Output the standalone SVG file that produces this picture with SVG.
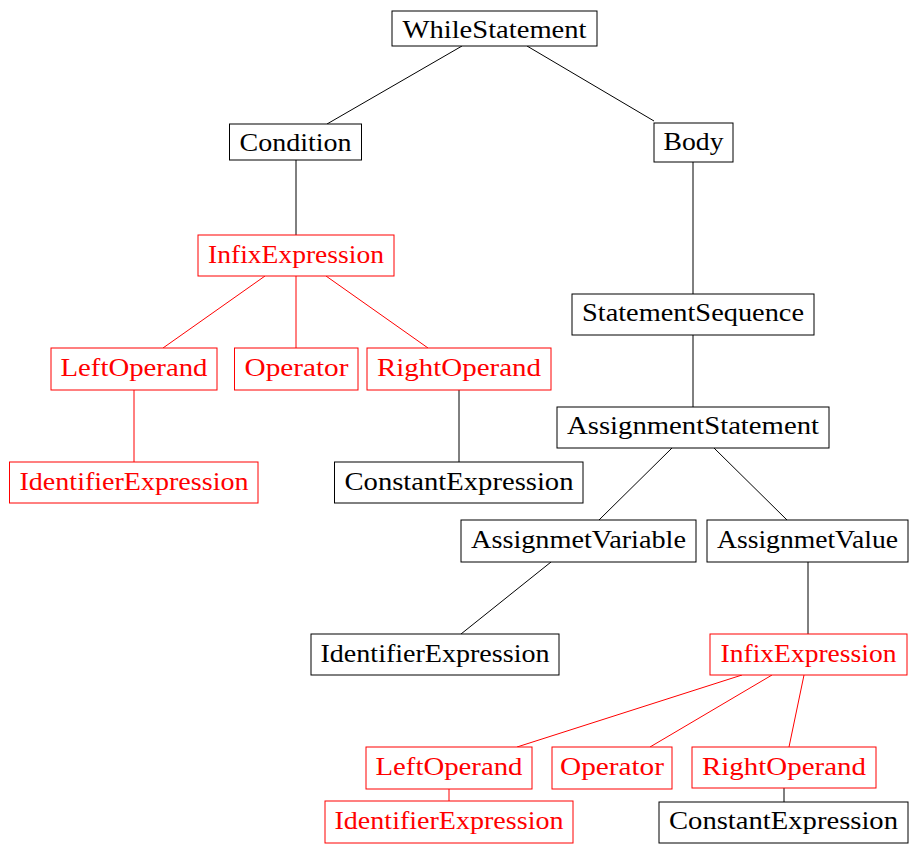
<svg xmlns="http://www.w3.org/2000/svg" width="910" height="844" viewBox="0 0 910 844">
  <style>
    .box { fill: #ffffff; stroke: #000000; stroke-width: 1; }
    .box.hl { stroke: #ff0000; }
    .lbl { font-size: 25px; fill: #000000; text-anchor: middle; }
    .lbl.hl { fill: #ff0000; }
    .edge { stroke: #000000; stroke-width: 1; fill: none; }
    .edge.hl { stroke: #ff0000; }
  </style>
  <rect width="910" height="844" fill="#ffffff"/>

  <!-- tree edges -->
  <g id="connectors">
    <line class="edge" x1="462" y1="46" x2="327" y2="124"/>
    <line class="edge" x1="527" y1="46" x2="654" y2="121"/>
    <line class="edge" x1="296" y1="160" x2="296" y2="235"/>
    <line class="edge hl" x1="265" y1="276" x2="163" y2="348"/>
    <line class="edge hl" x1="296" y1="276" x2="296" y2="348"/>
    <line class="edge hl" x1="326" y1="276" x2="428" y2="348"/>
    <line class="edge hl" x1="134" y1="390" x2="134" y2="462"/>
    <line class="edge" x1="459" y1="390" x2="459" y2="462"/>
    <line class="edge" x1="693" y1="162" x2="693" y2="294"/>
    <line class="edge" x1="693" y1="335" x2="693" y2="407"/>
    <line class="edge" x1="672" y1="448" x2="599" y2="520"/>
    <line class="edge" x1="714" y1="448" x2="787" y2="520"/>
    <line class="edge" x1="551" y1="562" x2="461" y2="634"/>
    <line class="edge" x1="808" y1="562" x2="808" y2="634"/>
    <line class="edge hl" x1="742" y1="675" x2="517" y2="747"/>
    <line class="edge hl" x1="772" y1="675" x2="650" y2="747"/>
    <line class="edge hl" x1="804" y1="675" x2="789" y2="747"/>
    <line class="edge hl" x1="449" y1="789" x2="449" y2="801"/>
    <line class="edge" x1="784" y1="788" x2="784" y2="802"/>
  </g>

  <!-- nodes; labels inherit the serif face from this group -->
  <g id="nodes" font-family="Liberation Serif, serif">
  <g id="n-while">
    <rect class="box" x="392" y="11" width="205" height="35"/>
    <text class="lbl" x="494.5" y="38" textLength="184" lengthAdjust="spacingAndGlyphs">WhileStatement</text>
  </g>
  <g id="n-condition">
    <rect class="box" x="229.5" y="124" width="132" height="36"/>
    <text class="lbl" x="295.5" y="151" textLength="112" lengthAdjust="spacingAndGlyphs">Condition</text>
  </g>
  <g id="n-body">
    <rect class="box" x="654" y="123" width="79" height="39"/>
    <text class="lbl" x="693.5" y="150" textLength="60" lengthAdjust="spacingAndGlyphs">Body</text>
  </g>
  <g id="n-cond-infix">
    <rect class="box hl" x="198" y="235" width="196" height="41"/>
    <text class="lbl hl" x="296" y="263" textLength="176" lengthAdjust="spacingAndGlyphs">InfixExpression</text>
  </g>
  <g id="n-cond-left">
    <rect class="box hl" x="51" y="348" width="166" height="42"/>
    <text class="lbl hl" x="134" y="376" textLength="147" lengthAdjust="spacingAndGlyphs">LeftOperand</text>
  </g>
  <g id="n-cond-op">
    <rect class="box hl" x="234.5" y="348" width="123.5" height="42"/>
    <text class="lbl hl" x="296.5" y="376" textLength="104" lengthAdjust="spacingAndGlyphs">Operator</text>
  </g>
  <g id="n-cond-right">
    <rect class="box hl" x="367" y="348" width="184" height="42"/>
    <text class="lbl hl" x="459" y="376" textLength="164" lengthAdjust="spacingAndGlyphs">RightOperand</text>
  </g>
  <g id="n-cond-ident">
    <rect class="box hl" x="9.5" y="462" width="248.5" height="41"/>
    <text class="lbl hl" x="134" y="490" textLength="229" lengthAdjust="spacingAndGlyphs">IdentifierExpression</text>
  </g>
  <g id="n-cond-const">
    <rect class="box" x="334.5" y="462" width="248.5" height="41"/>
    <text class="lbl" x="459" y="490" textLength="229" lengthAdjust="spacingAndGlyphs">ConstantExpression</text>
  </g>
  <g id="n-seq">
    <rect class="box" x="572" y="294" width="242" height="41"/>
    <text class="lbl" x="693" y="321" textLength="222" lengthAdjust="spacingAndGlyphs">StatementSequence</text>
  </g>
  <g id="n-assign">
    <rect class="box" x="557" y="407" width="272" height="41"/>
    <text class="lbl" x="693" y="434" textLength="252" lengthAdjust="spacingAndGlyphs">AssignmentStatement</text>
  </g>
  <g id="n-var">
    <rect class="box" x="461" y="520" width="235" height="42"/>
    <text class="lbl" x="578.5" y="548" textLength="215" lengthAdjust="spacingAndGlyphs">AssignmetVariable</text>
  </g>
  <g id="n-value">
    <rect class="box" x="707" y="520" width="201" height="42"/>
    <text class="lbl" x="807.5" y="548" textLength="181" lengthAdjust="spacingAndGlyphs">AssignmetValue</text>
  </g>
  <g id="n-var-ident">
    <rect class="box" x="311" y="634" width="248" height="41"/>
    <text class="lbl" x="435" y="662" textLength="229" lengthAdjust="spacingAndGlyphs">IdentifierExpression</text>
  </g>
  <g id="n-val-infix">
    <rect class="box hl" x="710" y="634" width="197" height="41"/>
    <text class="lbl hl" x="808.5" y="662" textLength="176" lengthAdjust="spacingAndGlyphs">InfixExpression</text>
  </g>
  <g id="n-val-left">
    <rect class="box hl" x="366" y="747" width="166" height="42"/>
    <text class="lbl hl" x="449" y="775" textLength="147" lengthAdjust="spacingAndGlyphs">LeftOperand</text>
  </g>
  <g id="n-val-op">
    <rect class="box hl" x="552" y="747" width="120" height="42"/>
    <text class="lbl hl" x="612" y="775" textLength="104" lengthAdjust="spacingAndGlyphs">Operator</text>
  </g>
  <g id="n-val-right">
    <rect class="box hl" x="692" y="747" width="184" height="41"/>
    <text class="lbl hl" x="784" y="775" textLength="164" lengthAdjust="spacingAndGlyphs">RightOperand</text>
  </g>
  <g id="n-val-ident">
    <rect class="box hl" x="325" y="801" width="248" height="42"/>
    <text class="lbl hl" x="449" y="829" textLength="229" lengthAdjust="spacingAndGlyphs">IdentifierExpression</text>
  </g>
  <g id="n-val-const">
    <rect class="box" x="659" y="802" width="249" height="41"/>
    <text class="lbl" x="783.5" y="829" textLength="229" lengthAdjust="spacingAndGlyphs">ConstantExpression</text>
  </g>
  </g>
</svg>
